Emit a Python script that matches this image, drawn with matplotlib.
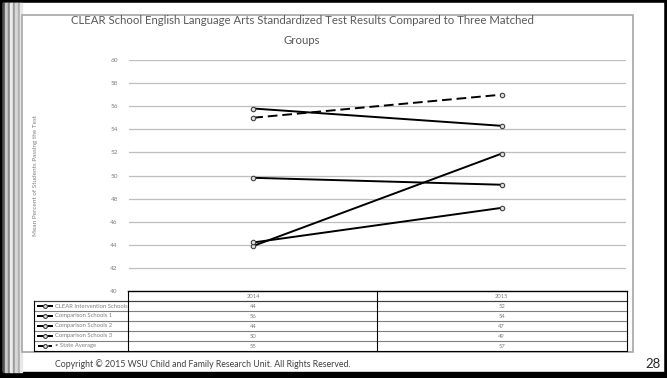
import numpy as np
import matplotlib.pyplot as plt
from matplotlib.lines import Line2D
from matplotlib.patches import Rectangle

plt.rcParams['font.family'] = ['Lato', 'DejaVu Sans']

# data
years = ['2014', '2015']
series = ['CLEAR Intervention Schools', 'Comparison Schools 1',
          'Comparison Schools 2', 'Comparison Schools 3', 'State Average']
clear_vals = [43.9, 51.9]
comp1_vals = [55.8, 54.3]
comp2_vals = [44.2, 47.2]
comp3_vals = [49.8, 49.2]
state_vals = [55.0, 57.0]
table_vals = [[44, 52], [56, 54], [44, 47], [50, 49], [55, 57]]
yticks = [40, 42, 44, 46, 48, 50, 52, 54, 56, 58, 60]

W, H = 667, 378
fig = plt.figure(figsize=(W / 100, H / 100), dpi=100)


def fx(px):
    return px / W


def fy(py):
    return 1 - py / H


# slide frame
fig.patches.append(Rectangle((0, 0), 1, 1, transform=fig.transFigure,
                             fill=False, ec='black', lw=4, zorder=0))
fig.patches.append(Rectangle((0, 0), 1, fy(372), transform=fig.transFigure,
                             color='black', zorder=0))
# left decorative stripes
for x0, w, c in [(3, 2, '#505050'), (5, 3, '#c8c8c8'), (8, 2, '#8a8a8a'),
                 (10, 3, '#ececec'), (13, 2, '#9a9a9a'), (15, 3, '#d8d8d8'),
                 (18, 2, '#b0b0b0'), (20, 2, '#e8e8e8')]:
    fig.patches.append(Rectangle((fx(x0), fy(372)), fx(w), fy(3) - fy(372),
                                 transform=fig.transFigure, color=c, zorder=0))

# chart frame
fig.patches.append(Rectangle((fx(22), fy(352)), fx(633 - 22), fy(15) - fy(352),
                             transform=fig.transFigure, fc='white',
                             ec='#a6a6a6', lw=1.2, zorder=1))

ax = fig.add_axes([fx(129), fy(291), fx(626 - 129), fy(60) - fy(291)])
ax.set_facecolor('none')
ax.set_zorder(3)
ax.set_xlim(-0.5, 1.5)
ax.set_ylim(40, 60)
ax.set_yticks(yticks)
ax.set_xticks([])
ax.tick_params(axis='y', length=0, labelsize=4.6, labelcolor='#7f7f7f', pad=8)
for s in ax.spines.values():
    s.set_visible(False)
ax.grid(axis='y', color='#bfbfbf', lw=0.9)
ax.set_axisbelow(True)

x = np.arange(len(years))
mk = dict(marker='o', ms=3.2, mfc='#e0e0e0', mec='#404040', mew=0.8, color='black', lw=1.4)
ax.plot(x, clear_vals, **mk)
ax.plot(x, comp1_vals, **mk)
ax.plot(x, comp2_vals, **mk)
ax.plot(x, comp3_vals, **mk)
ax.plot(x, state_vals, ls=(0, (5, 2.5)), **mk)

fig.text(fx(302), fy(21), 'CLEAR School English Language Arts Standardized Test Results Compared to Three Matched',
         ha='center', va='center', fontsize=8.2, color='#595959')
fig.text(fx(302), fy(41), 'Groups', ha='center', va='center', fontsize=8.2, color='#595959')
fig.text(fx(35), fy(175), 'Mean Percent of Students Passing the Test', rotation=90,
         ha='center', va='center', fontsize=4.6, color='#7f7f7f')

# data table
top, rh = 291, 10
left, lab_r, mid, right = 34, 128, 377, 627
bottom = top + rh * (len(series) + 1)
fig.add_artist(Line2D([fx(lab_r), fx(right)], [fy(top), fy(top)], color='black', lw=1))
for i in range(len(series) + 1):
    yy = top + rh * (i + 1)
    fig.add_artist(Line2D([fx(left), fx(right)], [fy(yy), fy(yy)],
                          color='black' if i == len(series) else '#7f7f7f', lw=0.8))
fig.add_artist(Line2D([fx(left), fx(right)], [fy(top + rh), fy(top + rh)], color='#404040', lw=0.8))
for xx, y0 in [(left, top + rh), (lab_r, top), (mid, top), (right, top)]:
    fig.add_artist(Line2D([fx(xx), fx(xx)], [fy(y0), fy(bottom)], color='black', lw=0.8))

tr = ax.get_xaxis_transform()
for j, yr in enumerate(years):
    ax.text(j, (fy(top + rh / 2) - fy(291)) / (fy(60) - fy(291)), yr, transform=tr,
            ha='center', va='center', fontsize=4.2, color='#7f7f7f', clip_on=False)
for i, name in enumerate(series):
    yc = top + rh * (i + 1.5)
    ls = '--' if i == len(series) - 1 else '-'
    fig.add_artist(Line2D([fx(38), fx(52)], [fy(yc), fy(yc)], color='black', lw=1.4, ls=ls))
    fig.add_artist(Line2D([fx(45)], [fy(yc)], marker='o', ms=2.8, mfc='#e0e0e0',
                          mec='#404040', mew=0.8))
    fig.text(fx(55), fy(yc), ('\u2022 ' if i == len(series) - 1 else '') + name,
             ha='left', va='center', fontsize=4.2, color='#7f7f7f')
    for j in range(len(years)):
        ax.text(j, (fy(yc) - fy(291)) / (fy(60) - fy(291)), str(table_vals[i][j]),
                transform=tr, ha='center', va='center', fontsize=4.2,
                color='#7f7f7f', clip_on=False)

fig.text(fx(55), fy(364), 'Copyright \u00a9 2015 WSU Child and Family Research Unit. All Rights Reserved.',
         ha='left', va='center', fontsize=6.3, color='#404040')
fig.text(fx(653), fy(364), '28', ha='center', va='center', fontsize=9.5, color='#262626')

fig.savefig('out.png', dpi=100)
